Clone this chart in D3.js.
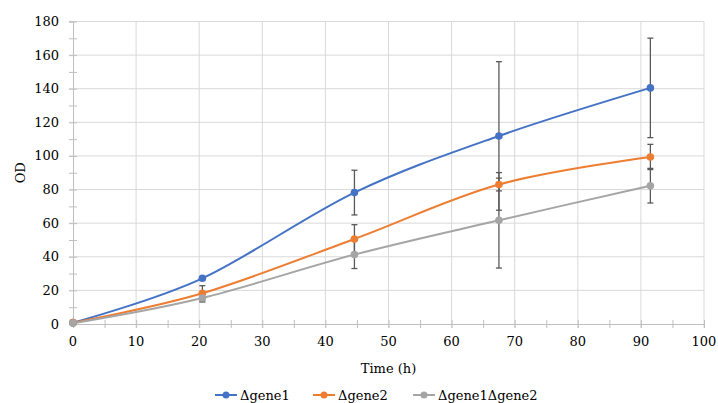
<!DOCTYPE html>
<html>
<head>
<meta charset="utf-8">
<script src="https://cdn.jsdelivr.net/npm/d3@7"></script>
<style>
  body { margin: 0; background: #fff; }
  text { font-family: "DejaVu Serif", serif; fill: #000; }
</style>
</head>
<body>
<svg id="chart" width="718" height="403"></svg>
<script>
// time points (h)
const time = [0, 20.5, 44.6, 67.5, 91.5];

// series values and their error bars
const gene1 = [0.8, 27.2, 78.2, 111.9, 140.5];
const gene1Err = [0.3, 1, 13.3, 44.2, 29.6];
const gene2 = [0.8, 18.3, 50.6, 83.0, 99.4];
const gene2Err = [0.3, 4.5, 8.5, 3.8, 7.5];
const gene12 = [0.5, 15.5, 41.3, 61.7, 82.3];
const gene12Err = [0.3, 2.4, 8.3, 28.4, 10.3];

const seriesNames = ['Δgene1', 'Δgene2', 'Δgene1Δgene2'];
const xTicks = [0, 10, 20, 30, 40, 50, 60, 70, 80, 90, 100];
const yTicks = [0, 20, 40, 60, 80, 100, 120, 140, 160, 180];

const colors = ['#4472C4', '#ED7D31', '#A5A5A5'];
const margin = { top: 21.5, right: 14, bottom: 79, left: 73 };
const width = 718, height = 403;

const svg = d3.select('#chart');

const x = d3.scaleLinear().domain([0, 100]).range([margin.left, width - margin.right]);
const y = d3.scaleLinear().domain([0, 180]).range([height - margin.bottom, margin.top]);

const series = [
  { name: seriesNames[0], vals: gene1, err: gene1Err, color: colors[0] },
  { name: seriesNames[1], vals: gene2, err: gene2Err, color: colors[1] },
  { name: seriesNames[2], vals: gene12, err: gene12Err, color: colors[2] }
];

// gridlines
const grid = svg.append('g');
grid.selectAll('.hg').data(yTicks.slice(1)).enter().append('line')
  .attr('x1', x(0) - 4).attr('x2', x(100))
  .attr('y1', d => y(d)).attr('y2', d => y(d))
  .attr('stroke', '#d9d9d9').attr('stroke-width', 1);
grid.selectAll('.vg').data(xTicks.slice(1)).enter().append('line')
  .attr('x1', d => x(d)).attr('x2', d => x(d))
  .attr('y1', y(180)).attr('y2', y(0) + 4)
  .attr('stroke', '#d9d9d9').attr('stroke-width', 1);

// axes
const xAxis = svg.append('g')
  .attr('transform', `translate(0,${y(0)})`)
  .call(d3.axisBottom(x).tickValues(d3.range(0, 101, 5)).tickSize(4).tickFormat(''));
xAxis.selectAll('.tick line').attr('y1', -4).attr('stroke', '#bfbfbf');
xAxis.select('.domain').attr('stroke', '#bfbfbf');

const yAxis = svg.append('g')
  .attr('transform', `translate(${x(0)},0)`)
  .call(d3.axisLeft(y).tickValues(d3.range(0, 181, 10)).tickSize(4).tickFormat(''));
yAxis.selectAll('.tick line').attr('x1', 4).attr('stroke', '#bfbfbf');
yAxis.select('.domain').attr('stroke', '#bfbfbf');

// tick labels
svg.append('g').selectAll('text').data(xTicks).enter().append('text')
  .attr('x', d => x(d)).attr('y', y(0) + 22)
  .attr('text-anchor', 'middle').attr('font-size', 13)
  .text(d => d);
svg.append('g').selectAll('text').data(yTicks).enter().append('text')
  .attr('x', x(0) - 14).attr('y', d => y(d)).attr('dy', '0.35em')
  .attr('text-anchor', 'end').attr('font-size', 13)
  .text(d => d);

// axis titles
svg.append('text').attr('x', (x(0) + x(100)) / 2).attr('y', 373)
  .attr('text-anchor', 'middle').attr('font-size', 13).text('Time (h)');
svg.append('text').attr('transform', `translate(25,${(y(0) + y(180)) / 2}) rotate(-90)`)
  .attr('text-anchor', 'middle').attr('font-size', 13).text('OD');

// lines
const line = d3.line()
  .x((d, i) => x(time[i]))
  .y(d => y(d))
  .curve(d3.curveCardinal.tension(0));

series.forEach(s => {
  svg.append('path').datum(s.vals)
    .attr('d', line)
    .attr('fill', 'none')
    .attr('stroke', s.color).attr('stroke-width', 2);
});

// error bars
series.forEach(s => {
  const g = svg.append('g').attr('stroke', '#595959').attr('stroke-width', 1.3);
  s.vals.forEach((v, i) => {
    const cx = x(time[i]);
    g.append('line').attr('x1', cx).attr('x2', cx).attr('y1', y(v - s.err[i])).attr('y2', y(v + s.err[i]));
    g.append('line').attr('x1', cx - 3).attr('x2', cx + 3).attr('y1', y(v - s.err[i])).attr('y2', y(v - s.err[i]));
    g.append('line').attr('x1', cx - 3).attr('x2', cx + 3).attr('y1', y(v + s.err[i])).attr('y2', y(v + s.err[i]));
  });
});

// markers
series.forEach(s => {
  svg.append('g').selectAll('circle').data(s.vals).enter().append('circle')
    .attr('cx', (d, i) => x(time[i])).attr('cy', d => y(d))
    .attr('r', 3.8).attr('fill', s.color);
});

// legend
const legendX = [215, 313, 413];
series.forEach((s, i) => {
  const g = svg.append('g').attr('transform', `translate(${legendX[i]},395)`);
  g.append('line').attr('x1', 0).attr('x2', 22).attr('y1', 0).attr('y2', 0)
    .attr('stroke', s.color).attr('stroke-width', 2);
  g.append('circle').attr('cx', 11).attr('cy', 0).attr('r', 3.5).attr('fill', s.color);
  g.append('text').attr('x', 25).attr('y', 0).attr('dy', '0.35em')
    .attr('font-size', 13).text(s.name);
});
</script>
</body>
</html>
